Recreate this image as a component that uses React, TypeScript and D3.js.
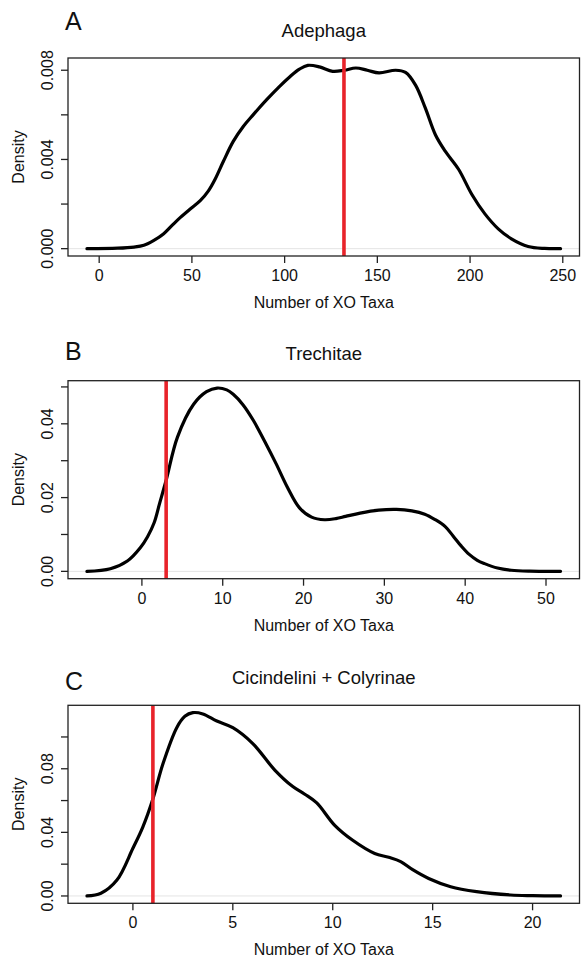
import React from 'react';
import * as d3 from 'd3';

// density curves (x = number of XO taxa, y = density)
const adephagaX = [-6.6, 10, 18.8, 24.1, 29.5, 34.8, 39.3, 43.8, 49.1, 54.5, 58.9, 62.5, 67, 72.3, 77.7, 83, 90.2, 97.3, 102.7, 108, 112.5, 118.8, 125.9, 132.2, 138.4, 144.6, 150.9, 159.9, 165.2, 170.6, 175.9, 181.3, 186.6, 193.8, 200.9, 208, 215.2, 222.3, 231.3, 240.2, 248.8];
const adephagaDensity = [0, 0.00002, 0.00007, 0.00015, 0.00037, 0.00067, 0.00104, 0.0014, 0.00178, 0.00215, 0.00259, 0.00311, 0.00392, 0.00481, 0.00548, 0.006, 0.00667, 0.00728, 0.0077, 0.00805, 0.00822, 0.00815, 0.00795, 0.008, 0.0081, 0.008, 0.00788, 0.008, 0.0079, 0.00733, 0.0063, 0.00511, 0.00437, 0.00356, 0.00244, 0.00156, 0.00089, 0.00044, 0.0001, 0.00001, 0];

const trechitaeX = [-6.8, -3.9, -1.8, -0.2, 0.7, 1.5, 2.2, 3, 4.4, 6.4, 8, 9.3, 10.5, 11.3, 12.5, 13.8, 15.2, 16.6, 18, 19.5, 21, 22.6, 24, 25.2, 27, 29.3, 31.5, 33.4, 35, 36.3, 37.5, 38.5, 39.5, 40.5, 41.5, 42.4, 44, 45.7, 48, 51.8];
const trechitaeDensity = [0, 0.0007, 0.0028, 0.0064, 0.0094, 0.0131, 0.0185, 0.0247, 0.0364, 0.0453, 0.0487, 0.0497, 0.0492, 0.048, 0.0452, 0.0409, 0.0352, 0.0292, 0.0228, 0.0172, 0.0147, 0.014, 0.0143, 0.0149, 0.0158, 0.0166, 0.0168, 0.0164, 0.0155, 0.014, 0.0122, 0.0096, 0.0069, 0.0046, 0.003, 0.0021, 0.0009, 0.0003, 0.00005, 0];

const cicindeliniX = [-2.3, -1.6, -0.8, 0, 0.5, 1, 1.5, 2.2, 2.6, 3, 3.5, 4.2, 5, 6, 7.1, 8, 8.6, 9.2, 10.1, 11, 12.1, 12.8, 13.4, 14, 14.8, 15.9, 17.2, 18.9, 20, 21.4];
const cicindeliniDensity = [0, 0.0017, 0.01, 0.03, 0.0435, 0.061, 0.083, 0.106, 0.113, 0.1153, 0.1145, 0.11, 0.1058, 0.0958, 0.0792, 0.0688, 0.064, 0.0585, 0.0444, 0.035, 0.0267, 0.0243, 0.0216, 0.0165, 0.011, 0.0058, 0.0027, 0.0006, 0.0002, 0];

// observed values (red lines)
const observedXO = [132, 3, 1];

const panelLetters = ['A', 'B', 'C'];
const panelTitles = ['Adephaga', 'Trechitae', 'Cicindelini + Colyrinae'];

const adephagaXTicks = [0, 50, 100, 150, 200, 250];
const trechitaeXTicks = [0, 10, 20, 30, 40, 50];
const cicindeliniXTicks = [0, 5, 10, 15, 20];

const adephagaYTicks = [0, 0.002, 0.004, 0.006, 0.008];
const trechitaeYTicks = [0, 0.01, 0.02, 0.03, 0.04, 0.05];
const cicindeliniYTicks = [0, 0.02, 0.04, 0.06, 0.08, 0.1];

const adephagaYLabels = [0, 0.004, 0.008];
const trechitaeYLabels = [0, 0.02, 0.04];
const cicindeliniYLabels = [0, 0.04, 0.08];

const yFormats = ['.3f', '.2f', '.2f'];

const panels = [
  { x: adephagaX, y: adephagaDensity, xTicks: adephagaXTicks, yTicks: adephagaYTicks, yLabels: adephagaYLabels },
  { x: trechitaeX, y: trechitaeDensity, xTicks: trechitaeXTicks, yTicks: trechitaeYTicks, yLabels: trechitaeYLabels },
  { x: cicindeliniX, y: cicindeliniDensity, xTicks: cicindeliniXTicks, yTicks: cicindeliniYTicks, yLabels: cicindeliniYLabels },
].map((p, i) => ({ ...p, letter: panelLetters[i], title: panelTitles[i], observed: observedXO[i], fmt: yFormats[i] }));

// layout
const W = 581, H = 959;
const boxLeft = 68, boxRight = 579.5, boxH = 198;
const boxTops = [58, 380.7, 705.3];
const letterOffsets = [28, 20.7, 15.3];
const font = '"Liberation Sans", Arial, Helvetica, sans-serif';

function Panel({ p, top, letterOffset }) {
  const bottom = top + boxH;
  const [xmin, xmax] = d3.extent(p.x);
  const pad = (xmax - xmin) * 0.04;
  const x = d3.scaleLinear().domain([xmin - pad, xmax + pad]).range([boxLeft, boxRight]);
  const ymax = d3.max(p.y);
  const y = d3.scaleLinear().domain([-0.04 * ymax, 1.04 * ymax]).range([bottom, top]);
  const line = d3.line().x(d => x(d[0])).y(d => y(d[1])).curve(d3.curveCatmullRom.alpha(0.5));
  const pts = p.x.map((v, i) => [v, p.y[i]]);
  const fmt = d3.format(p.fmt);
  const midX = (boxLeft + boxRight) / 2;
  const midY = (top + bottom) / 2;

  return (
    <g fontFamily={font} fill="#111">
      <text x={65} y={top - letterOffset} fontSize={25}>{p.letter}</text>
      <text x={midX} y={top - 21} fontSize={18.5} textAnchor="middle">{p.title}</text>

      <line x1={boxLeft} x2={boxRight} y1={y(0)} y2={y(0)} stroke="#e4e4e4" strokeWidth={1} />

      <path d={line(pts)} fill="none" stroke="#000" strokeWidth={3.2} strokeLinejoin="round" strokeLinecap="round" />

      <line x1={x(p.observed)} x2={x(p.observed)} y1={top} y2={bottom} stroke="#e8232a" strokeWidth={3.6} />

      <rect x={boxLeft} y={top} width={boxRight - boxLeft} height={boxH} fill="none" stroke="#222" strokeWidth={1.3} />

      {p.xTicks.map(t => (
        <g key={'x' + t}>
          <line x1={x(t)} x2={x(t)} y1={bottom} y2={bottom + 7} stroke="#222" strokeWidth={1.3} />
          <text x={x(t)} y={bottom + 25} fontSize={16} textAnchor="middle">{t}</text>
        </g>
      ))}
      {p.yTicks.map(t => (
        <line key={'y' + t} x1={boxLeft - 7} x2={boxLeft} y1={y(t)} y2={y(t)} stroke="#222" strokeWidth={1.3} />
      ))}
      {p.yLabels.map(t => (
        <text key={'yl' + t} transform={`translate(52.5,${y(t)}) rotate(-90)`} fontSize={16} textAnchor="middle">{fmt(t)}</text>
      ))}

      <text x={midX} y={bottom + 52} fontSize={16} textAnchor="middle">Number of XO Taxa</text>
      <text transform={`translate(23.5,${midY}) rotate(-90)`} fontSize={16} textAnchor="middle">Density</text>
    </g>
  );
}

export default function App() {
  return (
    <svg width={W} height={H} style={{ position: 'absolute', left: 0, top: 0, background: '#fff' }}>
      <rect width={W} height={H} fill="#fff" />
      {panels.map((p, i) => (
        <Panel key={p.letter} p={p} top={boxTops[i]} letterOffset={letterOffsets[i]} />
      ))}
    </svg>
  );
}
